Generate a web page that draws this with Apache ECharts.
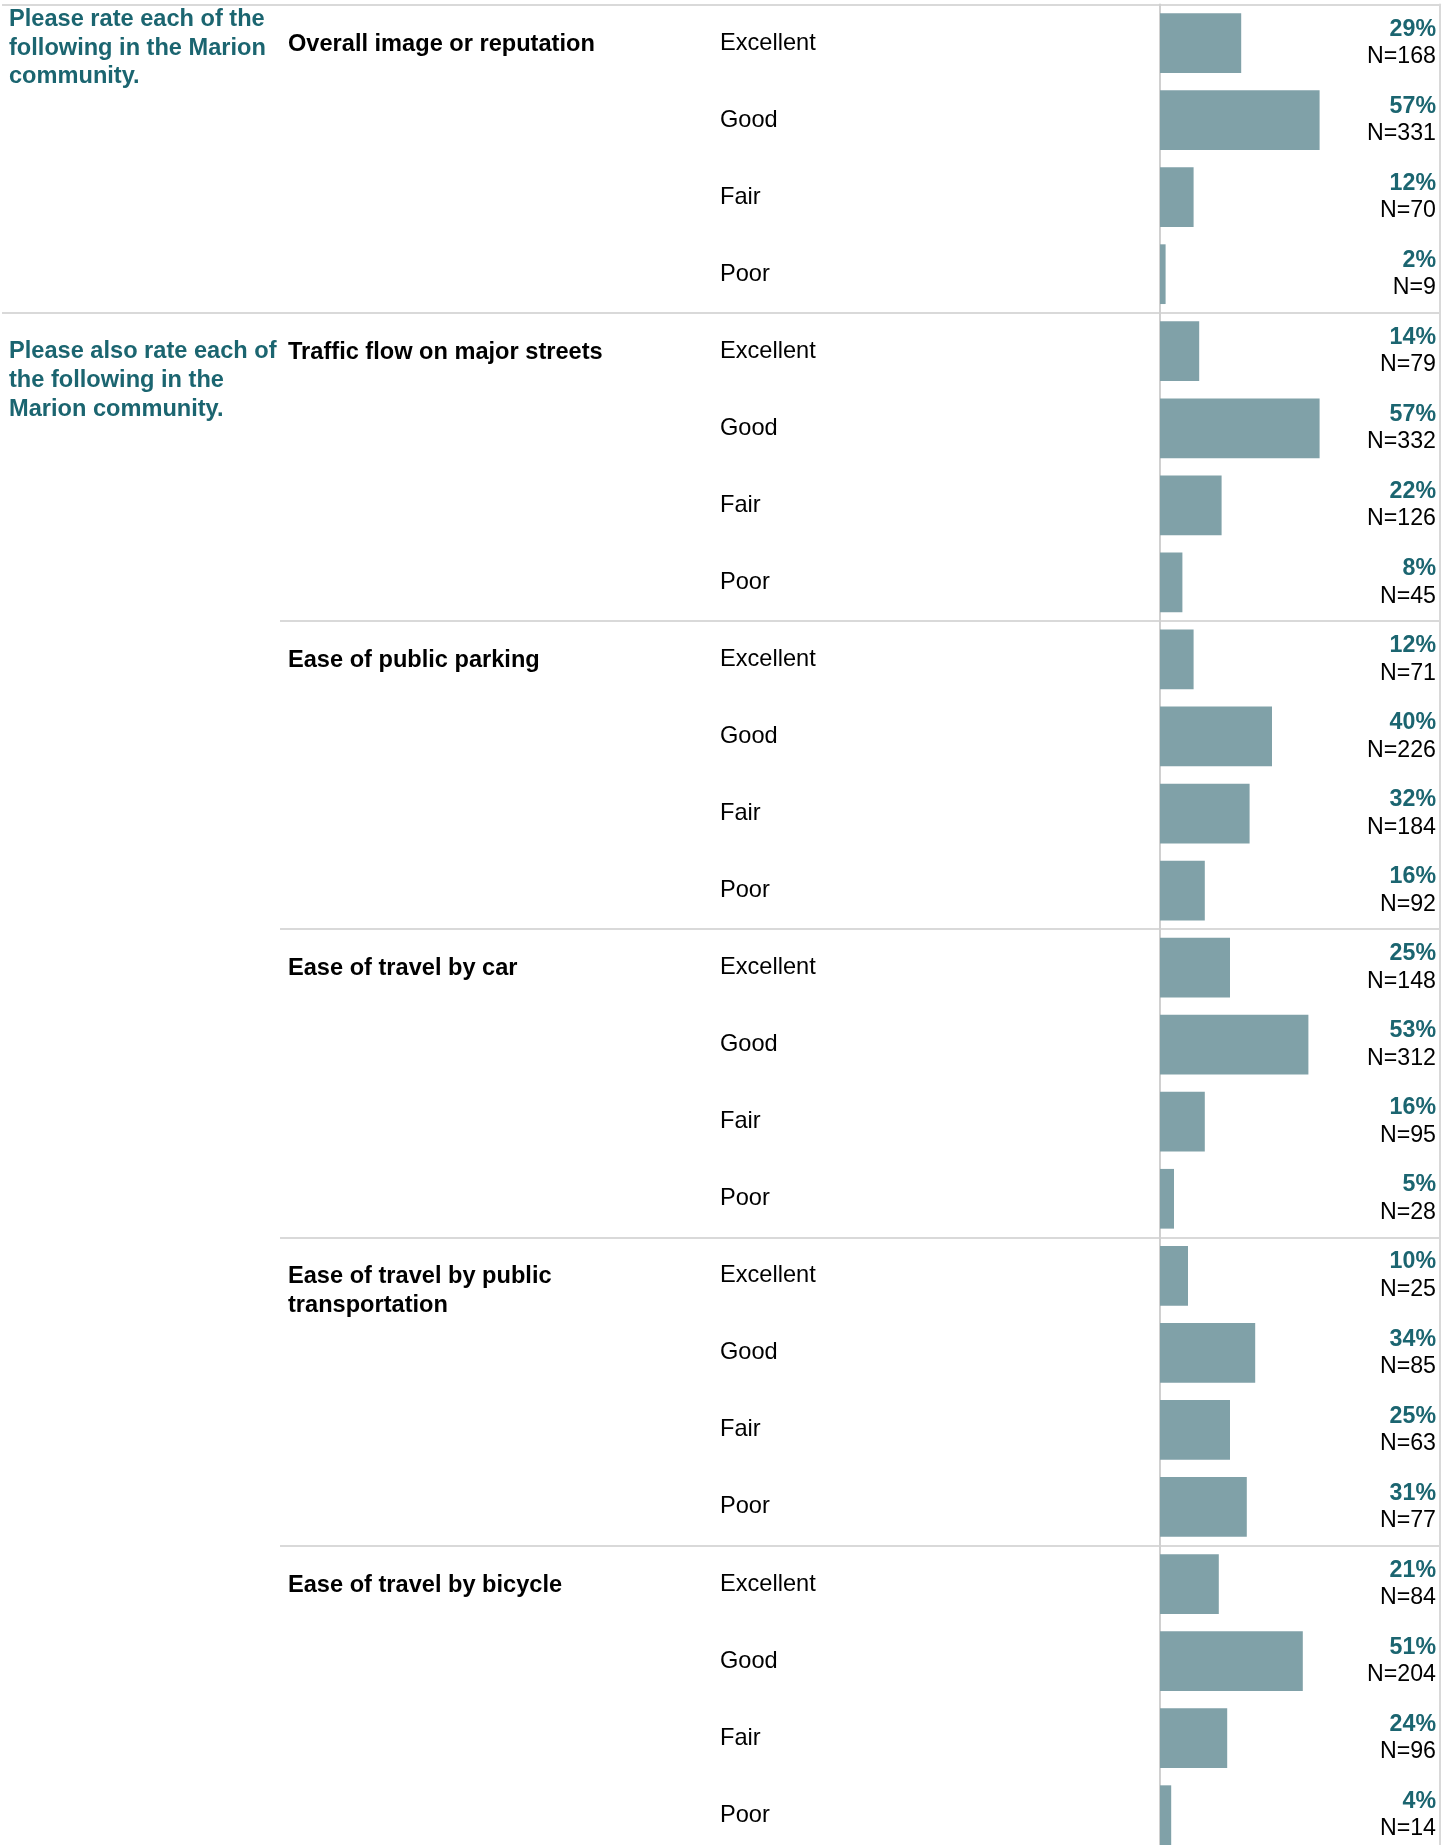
<!DOCTYPE html>
<html>
<head>
<meta charset="utf-8">
<script src="https://cdn.jsdelivr.net/npm/echarts@6/dist/echarts.min.js"></script>
<style>
html,body{margin:0;padding:0;background:#ffffff;}
#chart{width:1455px;height:1845px;}
</style>
</head>
<body>
<div id="chart"></div>
<script>
// ---- data ----
const questions = [
  "Please rate each of the\nfollowing in the Marion\ncommunity.",
  "Please also rate each of\nthe following in the\nMarion community."
];
const questionFirstItem = [0, 1];
const items = [
  "Overall image or reputation",
  "Traffic flow on major streets",
  "Ease of public parking",
  "Ease of travel by car",
  "Ease of travel by public\ntransportation",
  "Ease of travel by bicycle"
];
const ratings = ["Excellent", "Good", "Fair", "Poor"];

const pctOverall = [29, 57, 12, 2];
const nOverall = [168, 331, 70, 9];
const pctTraffic = [14, 57, 22, 8];
const nTraffic = [79, 332, 126, 45];
const pctParking = [12, 40, 32, 16];
const nParking = [71, 226, 184, 92];
const pctCar = [25, 53, 16, 5];
const nCar = [148, 312, 95, 28];
const pctTransit = [10, 34, 25, 31];
const nTransit = [25, 85, 63, 77];
const pctBicycle = [21, 51, 24, 4];
const nBicycle = [84, 204, 96, 14];

const pctByItem = [pctOverall, pctTraffic, pctParking, pctCar, pctTransit, pctBicycle];
const nByItem = [nOverall, nTraffic, nParking, nCar, nTransit, nBicycle];

// ---- build rows ----
const rowIds = [], rowRating = [], rowItem = [], rowQuestion = [], rowPct = [], rowN = [];
items.forEach((it, i) => {
  ratings.forEach((r, j) => {
    rowIds.push(i + '-' + j);
    rowRating.push(r);
    rowItem.push(j === 0 ? it : '');
    const qi = questionFirstItem.indexOf(i);
    rowQuestion.push(j === 0 && qi >= 0 ? qi : -1);
    rowPct.push(pctByItem[i][j]);
    rowN.push(nByItem[i][j]);
  });
});

const FONT = "'Liberation Sans', Arial, Helvetica, sans-serif";
const TEAL = '#1b6570';
const BAR = '#80a1a8';
const LINE = '#d9d9d9';
const TOP = 4.5, ROWH = 77.05;
const H = ROWH * rowIds.length;
const FS_LEFT = 23.6;

const chart = echarts.init(document.getElementById('chart'), null, {renderer: 'canvas'});

const catBase = {
  type: 'category', data: rowIds, inverse: true,
  axisTick: {show: false}, axisLine: {show: false},
  splitLine: {show: false}
};

const option = {
  animation: false,
  backgroundColor: '#ffffff',
  textStyle: {fontFamily: FONT},
  grid: [
    {left: 1160, width: 280, top: TOP, height: H, containLabel: false, outerBoundsMode: 'none'},
    {left: 2, width: 1438, top: TOP, height: H, containLabel: false, outerBoundsMode: 'none'},
    {left: 280, width: 1160, top: TOP, height: H, containLabel: false, outerBoundsMode: 'none'}
  ],
  xAxis: [
    {type: 'value', gridIndex: 0, min: 0, max: 100, show: false},
    {type: 'value', gridIndex: 1, show: false},
    {type: 'value', gridIndex: 2, show: false}
  ],
  yAxis: [
    // rating labels + bar axis line
    Object.assign({}, catBase, {
      gridIndex: 0, position: 'left',
      axisLine: {show: true, lineStyle: {color: '#d0d0d0', width: 2}},
      axisLabel: {
        interval: 0, margin: 440, align: 'left', verticalAlign: 'middle',
        fontSize: FS_LEFT, color: '#000000', fontFamily: FONT,
        padding: [5, 0, 0, 0],
        formatter: (v, idx) => rowRating[idx]
      }
    }),
    // item labels
    Object.assign({}, catBase, {
      gridIndex: 0, position: 'left',
      axisLabel: {
        interval: 0, margin: 872, align: 'left', verticalAlign: 'middle',
        fontFamily: FONT,
        padding: [2, 0, 0, 0],
        formatter: (v, idx) => {
          const t = rowItem[idx];
          if (!t) return '';
          const lines = t.split('\n');
          if (lines.length === 1) return '{b|' + t + '}';
          return '{s| }\n' + lines.map(l => '{b|' + l + '}').join('\n');
        },
        rich: {
          b: {fontSize: FS_LEFT, fontWeight: 'bold', color: '#000000', lineHeight: 28.8, fontFamily: FONT},
          s: {fontSize: 2, lineHeight: 28.8}
        }
      }
    }),
    // question labels
    Object.assign({}, catBase, {
      gridIndex: 0, position: 'left',
      axisLabel: {
        interval: 0, margin: 1151, align: 'left', verticalAlign: 'middle',
        fontFamily: FONT,
        padding: [4, 0, 0, 0],
        formatter: (v, idx) => {
          const qi = rowQuestion[idx];
          if (qi < 0) return '';
          const lines = questions[qi].split('\n');
          const sp = qi === 0 ? 's1' : 's2';
          return '{' + sp + '| }\n' + lines.map(l => '{q|' + l + '}').join('\n');
        },
        rich: {
          q: {fontSize: FS_LEFT, fontWeight: 'bold', color: TEAL, lineHeight: 28.8, fontFamily: FONT},
          s1: {fontSize: 2, lineHeight: 6},
          s2: {fontSize: 2, lineHeight: 54}
        }
      }
    }),
    // value labels + right border
    Object.assign({}, catBase, {
      gridIndex: 0, position: 'right',
      axisLine: {show: true, lineStyle: {color: '#d9d9d9', width: 2}},
      axisLabel: {
        inside: true, interval: 0, margin: 4, align: 'right', verticalAlign: 'middle',
        fontFamily: FONT,
        padding: [0, 0, 0, 0],
        formatter: (v, idx) => '{p|' + rowPct[idx] + '%}\n{n|N=' + rowN[idx] + '}',
        rich: {
          p: {fontSize: 23.2, fontWeight: 'bold', color: TEAL, lineHeight: 27.5, fontFamily: FONT, align: 'right'},
          n: {fontSize: 23.2, color: '#000000', lineHeight: 27.5, fontFamily: FONT, align: 'right'}
        }
      }
    }),
    // full-width separators (question boundaries)
    Object.assign({}, catBase, {
      gridIndex: 1, axisLabel: {show: false},
      splitLine: {show: true, showMinLine: true, showMaxLine: true,
        interval: (idx) => idx === 0 || idx === 4,
        lineStyle: {color: LINE, width: 2}}
    }),
    // item separators
    Object.assign({}, catBase, {
      gridIndex: 2, axisLabel: {show: false},
      splitLine: {show: true, showMinLine: true, showMaxLine: true,
        interval: (idx) => idx > 4 && idx % 4 === 0,
        lineStyle: {color: LINE, width: 2}}
    })
  ],
  series: [
    {
      type: 'bar', xAxisIndex: 0, yAxisIndex: 0,
      data: rowPct, barCategoryGap: '22.5%',
      itemStyle: {color: BAR},
      silent: true, z: 1
    }
  ]
};
chart.setOption(option);
</script>
</body>
</html>
